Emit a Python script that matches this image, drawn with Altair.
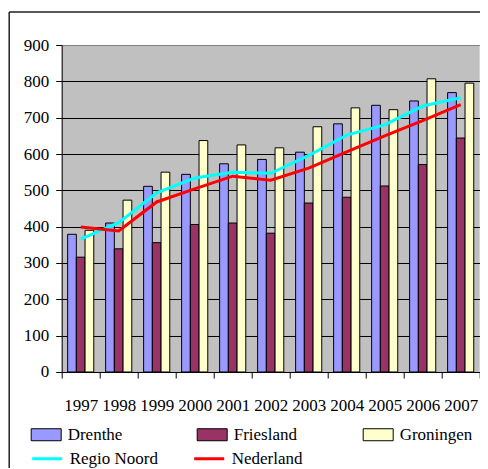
import altair as alt
import pandas as pd

years = ["1997", "1998", "1999", "2000", "2001", "2002", "2003", "2004", "2005", "2006", "2007"]
drenthe = [379, 410, 511, 544, 573, 585, 605, 683, 734, 746, 769]
friesland = [316, 339, 356, 406, 410, 382, 465, 481, 512, 571, 644]
groningen = [390, 473, 550, 637, 625, 617, 675, 727, 722, 807, 795]
regio_noord = [366, 411, 493, 534, 550, 547, 596, 652, 680, 732, 755]
nederland = [399, 388, 468, 504, 539, 528, 561, 606, 650, 692, 736]
y_ticks = [0, 100, 200, 300, 400, 500, 600, 700, 800, 900]

bar_names = ["Drenthe", "Friesland", "Groningen"]
bar_colors = ["#9999FF", "#993366", "#FFFFCC"]
line_names = ["Regio Noord", "Nederland"]
line_colors = ["#00FFFF", "#FF0000"]

rows = []
for name, vals in zip(bar_names, [drenthe, friesland, groningen]):
    for y, v in zip(years, vals):
        rows.append({"jaar": y, "reeks": name, "waarde": v})
bars_df = pd.DataFrame(rows)

rows = []
for name, vals in zip(line_names, [regio_noord, nederland]):
    for y, v in zip(years, vals):
        rows.append({"jaar": y, "lijn": name, "waarde": v})
lines_df = pd.DataFrame(rows)

FONT = "Liberation Serif"
FS = 17

x_scale = alt.Scale(domain=years, paddingInner=0, paddingOuter=0)
y_scale = alt.Scale(domain=[0, 900], nice=False)

x_axis = alt.Axis(
    title=None, labelAngle=0, labelOverlap=False, labelPadding=20,
    tickBand="extent", tickSize=6, tickColor="black", domainColor="black",
    labelFont=FONT, labelFontSize=FS, labelColor="black", grid=False,
)
y_axis = alt.Axis(
    title=None, values=y_ticks, tickSize=6, tickColor="black",
    domainColor="black", labelFont=FONT, labelFontSize=FS, labelColor="black",
    labelPadding=7, grid=True,
    gridColor={"condition": {"test": "datum.value == 900", "value": "#808080"}, "value": "black"},
    gridWidth=1,
)

bars = alt.Chart(bars_df).mark_bar(stroke="black", strokeWidth=1).encode(
    x=alt.X("jaar:N", sort=years, scale=x_scale, axis=x_axis),
    xOffset=alt.XOffset("reeks:N", sort=bar_names,
                        scale=alt.Scale(domain=bar_names, paddingInner=0, paddingOuter=0.68)),
    y=alt.Y("waarde:Q", scale=y_scale, axis=y_axis),
    fill=alt.Fill(
        "reeks:N",
        scale=alt.Scale(domain=bar_names, range=bar_colors),
        legend=alt.Legend(
            title=None, orient="none", legendX=-31, legendY=374, columns=3,
            direction="horizontal", gridAlign="all", columnPadding=54,
            symbolType="M-1,-0.4L1,-0.4L1,0.4L-1,0.4Z", symbolSize=900,
            symbolStrokeColor="black", symbolStrokeWidth=1, symbolOpacity=1,
            labelFont=FONT, labelFontSize=FS, labelColor="black", labelOffset=6,
            padding=0, rowPadding=0,
        ),
    ),
)

lines = alt.Chart(lines_df).mark_line(strokeWidth=3).encode(
    x=alt.X("jaar:N", sort=years, scale=x_scale, axis=x_axis),
    y=alt.Y("waarde:Q", scale=y_scale, axis=y_axis),
    stroke=alt.Stroke(
        "lijn:N",
        scale=alt.Scale(domain=line_names, range=line_colors),
        legend=alt.Legend(
            title=None, orient="none", legendX=-31, legendY=397, columns=3,
            direction="horizontal", gridAlign="all", columnPadding=29,
            symbolType="stroke", symbolSize=900, symbolStrokeWidth=3,
            labelFont=FONT, labelFontSize=FS, labelColor="black", labelOffset=6,
            padding=0, rowPadding=0,
        ),
    ),
)

frame_df = pd.DataFrame({"k": [0]})
left_border = alt.Chart(frame_df).mark_rule(color="#222222", strokeWidth=1.5).encode(
    x=alt.value(-52.5), y=alt.value(-33), y2=alt.value(440)
)
top_border = alt.Chart(frame_df).mark_rule(color="#222222", strokeWidth=1.5).encode(
    x=alt.value(-52.5), x2=alt.value(440), y=alt.value(-33)
)

chart = alt.layer(bars, lines, left_border, top_border).resolve_scale(
    fill="independent", stroke="independent"
).properties(
    width=418, height=327,
    background="white",
    autosize=alt.AutoSizeParams(type="none"),
    padding={"left": 53.7, "top": 37, "right": 0, "bottom": 96},
).configure_view(fill="#C0C0C0", stroke=None).configure_axis(
    labelFont=FONT, labelFontSize=FS, labelColor="black"
).configure_legend(labelFont=FONT).configure_text(font=FONT)

chart.save("out.html", embed_options={"renderer": "svg", "actions": False})
